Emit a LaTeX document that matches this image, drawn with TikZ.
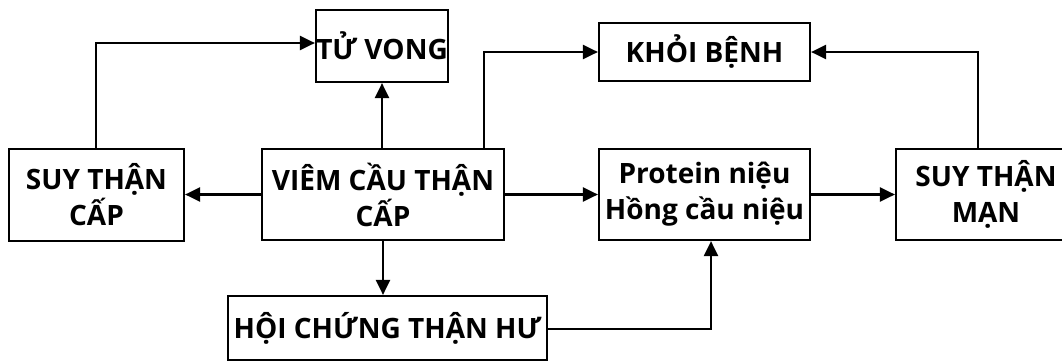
\documentclass[tikz,border=0pt]{standalone}
\usepackage{fontspec}
\setmainfont{Open Sans}[BoldFont={Open Sans Bold}]
\usetikzlibrary{arrows.meta}
\begin{document}
\begin{tikzpicture}[x=1pt,y=-1pt,
  box/.style={draw,line width=2.2pt,inner sep=0pt,align=center,
    font=\fontsize{28}{36}\selectfont\bfseries},
  conn/.style={line width=2.2pt,-{Triangle[length=15pt,width=14pt]}}]
\useasboundingbox (0,0) rectangle (1062,362);
\node[box,minimum width=132pt,minimum height=72pt] (tv) at (382,46) {TỬ VONG};
\node[box,minimum width=175pt,minimum height=92pt] (stc) at (96.5,195) {SUY THẬN\\CẤP};
\node[box,minimum width=242pt,minimum height=91pt] (vct) at (383,194.5) {VIÊM CẦU THẬN\\CẤP};
\node[box,minimum width=211pt,minimum height=58pt] (kb) at (704.5,52) {KHỎI BỆNH};
\node[box,minimum width=211pt,minimum height=91pt] (pn) at (704.5,194.5) {Protein niệu\\Hồng cầu niệu};
\node[box,minimum width=180pt,minimum height=91pt] (stm) at (986,194.5) {SUY THẬN\\MẠN};
\node[box,minimum width=319pt,minimum height=64pt] (hc) at (387.5,328) {HỘI CHỨNG THẬN HƯ};
\coordinate (c1) at (96,43);
\coordinate (c2) at (484,52);
\coordinate (c3) at (978,52);
\coordinate (c4) at (711,329);
\draw[conn] (stc.north -| c1) -- (c1) -- (c1 -| tv.west);
\draw[conn] (vct.north -| tv.south) -- (tv.south);
\draw[conn] (vct.north -| c2) -- (c2) -- (kb.west);
\draw[conn] (stm.north -| c3) -- (c3) -- (kb.east);
\draw[conn] (vct.west) -- (stc.east |- vct.west);
\draw[conn] (vct.east) -- (pn.west);
\draw[conn] (pn.east) -- (stm.west);
\draw[conn] (vct.south) -- (vct.south |- hc.north);
\draw[conn] (hc.east |- c4) -- (c4) -- (c4 |- pn.south);
\end{tikzpicture}
\end{document}
